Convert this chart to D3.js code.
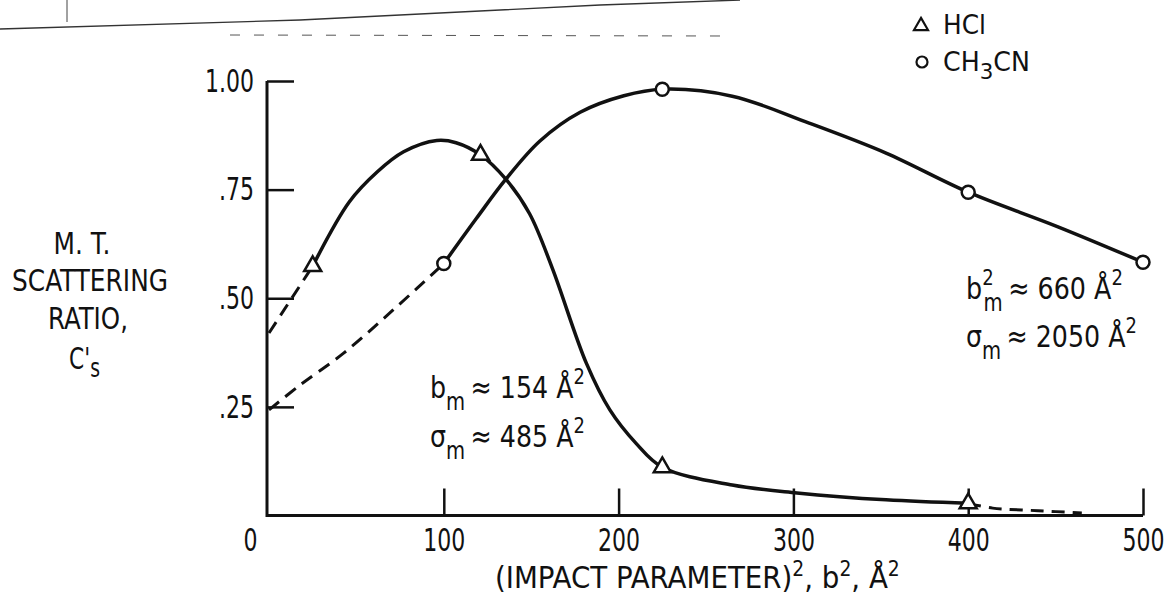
<!DOCTYPE html>
<html>
<head>
<meta charset="utf-8">
<script src="https://cdn.jsdelivr.net/npm/d3@7"></script>
<style>
  html, body { margin: 0; padding: 0; background: #fff; }
  svg text { font-family: 'Liberation Sans Narrow', 'Arial Narrow', 'DejaVu Sans Condensed', sans-serif; fill: #111; }
</style>
</head>
<body>
<div id="chart"></div>
<script>
// axis ticks
const xTicks = [0, 100, 200, 300, 400, 500];
const yTicks = [0.25, 0.5, 0.75, 1.0];
const yTickLabels = ['.25', '.50', '.75', '1.00'];

// measured points
const hclX = [25, 121, 225, 400];
const hclY = [0.574, 0.83, 0.111, 0.028];
const ch3cnX = [100, 225, 400, 500];
const ch3cnY = [0.58, 0.981, 0.744, 0.583];

// drawn curves
const hclCurveX = [25, 46, 62, 77, 96, 107, 121, 135.5, 149, 162, 181.6, 195, 210, 225, 265, 302, 353, 400];
const hclCurveY = [0.574, 0.722, 0.791, 0.837, 0.863, 0.858, 0.83, 0.774, 0.695, 0.57, 0.35, 0.243, 0.166, 0.111, 0.07, 0.052, 0.036, 0.028];
const hclDashX = [0, 25];
const hclDashY = [0.42, 0.574];
const hclTailX = [400, 414, 440, 465];
const hclTailY = [0.028, 0.017, 0.011, 0.006];

const ch3cnCurveX = [100, 118.7, 135.5, 155, 178, 203, 225, 265, 309, 353, 400, 451, 500];
const ch3cnCurveY = [0.58, 0.684, 0.774, 0.862, 0.928, 0.966, 0.981, 0.965, 0.903, 0.834, 0.744, 0.665, 0.583];
const ch3cnDashX = [0, 17.7, 42.5, 71, 100];
const ch3cnDashY = [0.243, 0.30, 0.373, 0.473, 0.58];

function zip(xs, ys) { return xs.map((v, i) => [v, ys[i]]); }

// squeeze a text horizontally so it reads as the condensed lettering of the figure
function squeeze(node, k, origin) {
  const bb = node.getBBox();
  const ox = origin === 'right' ? bb.x + bb.width : origin === 'center' ? bb.x + bb.width / 2 : bb.x;
  node.setAttribute('transform', `translate(${ox},0) scale(${k},1) translate(${-ox},0)`);
}
function fitWidth(node, target, origin) {
  const w = node.getBBox().width;
  if (w > 0) squeeze(node, target / w, origin);
}

function renderChart() {
  const width = 1174, height = 595;
  const svg = d3.select('#chart').append('svg')
    .attr('width', width)
    .attr('height', height);

  const x = d3.scaleLinear().domain([0, 500]).range([269, 1143]);
  const y = d3.scaleLinear().domain([0, 1]).range([515.5, 81]);
  const ink = '#111';

  // scan edge of the page
  svg.append('path')
    .attr('d', 'M0,29 L300,20 L600,5 L740,0')
    .attr('fill', 'none').attr('stroke', '#333').attr('stroke-width', 1.3);
  svg.append('path')
    .attr('d', 'M230,35 L720,36')
    .attr('fill', 'none').attr('stroke', '#555').attr('stroke-width', 1)
    .attr('stroke-dasharray', '10,14');
  svg.append('path')
    .attr('d', 'M67,0 L67,22')
    .attr('fill', 'none').attr('stroke', '#444').attr('stroke-width', 1);

  // axes
  const xAxis = d3.axisBottom(x).tickValues(xTicks).tickSize(-27).tickSizeOuter(0).tickPadding(13).tickFormat(d3.format('d'));
  const gx = svg.append('g').attr('transform', `translate(0,${y(0)})`).call(xAxis);
  gx.select('.domain').attr('d', `M${x(0) - 2},0H${x(500)}`);
  gx.selectAll('.tick').filter(d => d === 0).select('line').remove();
  gx.selectAll('.tick').filter(d => d === 0).select('text').attr('x', -19);

  const yAxis = d3.axisLeft(y).tickValues(yTicks).tickSize(-27).tickSizeOuter(0).tickPadding(13)
    .tickFormat((d, i) => yTickLabels[i]);
  const gy = svg.append('g').attr('transform', `translate(${x(0) - 2},0)`).call(yAxis);
  gy.select('.domain').attr('d', `M0,${y(1)}V${y(0) + 1.5}`);

  [gx, gy].forEach(g => {
    g.select('.domain').attr('stroke', ink).attr('stroke-width', 3);
    g.selectAll('.tick line').attr('stroke', ink).attr('stroke-width', 2.5);
    g.selectAll('.tick text')
      .attr('fill', ink)
      .attr('font-size', '32px')
      .attr('font-family', null);
  });

  // tick label squeeze, taken from the width of "200"
  const ref = gx.selectAll('.tick text').filter(d => d === 200).node();
  const kTick = 42 / ref.getBBox().width;
  gx.selectAll('.tick text').each(function () { squeeze(this, kTick, 'center'); });
  gy.selectAll('.tick text').each(function () { squeeze(this, kTick, 'right'); });

  // curves
  const line = d3.line().x(d => x(d[0])).y(d => y(d[1])).curve(d3.curveCatmullRom.alpha(0.5));
  const drawCurve = (xs, ys, dashed) => {
    svg.append('path')
      .attr('d', line(zip(xs, ys)))
      .attr('fill', 'none')
      .attr('stroke', ink)
      .attr('stroke-width', dashed ? 3 : 3.5)
      .attr('stroke-linecap', 'butt')
      .attr('stroke-dasharray', dashed ? '13,8' : null);
  };
  drawCurve(hclDashX, hclDashY, true);
  drawCurve(ch3cnDashX, ch3cnDashY, true);
  drawCurve(hclTailX, hclTailY, true);
  drawCurve(hclCurveX, hclCurveY, false);
  drawCurve(ch3cnCurveX, ch3cnCurveY, false);

  // markers
  const tri = d3.symbol(d3.symbolTriangle, 125);
  svg.append('g').selectAll('path')
    .data(zip(hclX, hclY))
    .join('path')
    .attr('d', tri)
    .attr('transform', d => `translate(${x(d[0])},${y(d[1])})`)
    .attr('fill', '#fff')
    .attr('stroke', ink)
    .attr('stroke-width', 2.5);

  svg.append('g').selectAll('circle')
    .data(zip(ch3cnX, ch3cnY))
    .join('circle')
    .attr('cx', d => x(d[0]))
    .attr('cy', d => y(d[1]))
    .attr('r', 6.5)
    .attr('fill', '#fff')
    .attr('stroke', ink)
    .attr('stroke-width', 2.5);

  // legend
  svg.append('path')
    .attr('d', d3.symbol(d3.symbolTriangle, 85)())
    .attr('transform', 'translate(921,26)')
    .attr('fill', '#fff').attr('stroke', ink).attr('stroke-width', 2.2);
  const hl = svg.append('text').attr('x', 943).attr('y', 34).attr('font-size', '26px').text('HCl');
  fitWidth(hl.node(), 43, 'left');
  svg.append('circle').attr('cx', 922).attr('cy', 62).attr('r', 5.5)
    .attr('fill', '#fff').attr('stroke', ink).attr('stroke-width', 2.2);
  const ch = svg.append('text').attr('x', 943).attr('y', 71).attr('font-size', '26px');
  ch.append('tspan').text('CH');
  ch.append('tspan').attr('dy', 8).attr('font-size', '22px').text('3');
  ch.append('tspan').attr('dy', -8).text('CN');
  fitWidth(ch.node(), 87, 'left');

  // y axis title
  const yTitle = ['M. T.', 'SCATTERING', 'RATIO,'];
  const yTitleCx = [82, 90, 88];
  const yTitleW = [57, 156, 80];
  yTitle.forEach((t, i) => {
    const tt = svg.append('text')
      .attr('x', yTitleCx[i]).attr('y', 254 + i * 37.5)
      .attr('text-anchor', 'middle')
      .attr('font-size', '31px')
      .text(t);
    fitWidth(tt.node(), yTitleW[i], 'center');
  });
  const cs = svg.append('text').attr('x', 69).attr('y', 369).attr('font-size', '30px');
  cs.append('tspan').text("C'");
  cs.append('tspan').attr('dy', 8).attr('font-size', '26px').text('s');
  fitWidth(cs.node(), 31, 'left');

  // x axis title
  const xt = svg.append('text').attr('x', 495).attr('y', 588).attr('font-size', '31px');
  xt.append('tspan').text('(IMPACT PARAMETER)');
  xt.append('tspan').attr('dy', -12).attr('font-size', '21px').text('2');
  xt.append('tspan').attr('dy', 12).text(', b');
  xt.append('tspan').attr('dy', -12).attr('font-size', '21px').text('2');
  xt.append('tspan').attr('dy', 12).text(', Å');
  xt.append('tspan').attr('dy', -12).attr('font-size', '21px').text('2');
  fitWidth(xt.node(), 405, 'left');

  // annotations
  const note = (x0, y0, sym, sup, val, w) => {
    const t = svg.append('text').attr('x', x0).attr('y', y0).attr('font-size', '31px');
    t.append('tspan').text(sym);
    if (sup) {
      t.append('tspan').attr('dy', -14).attr('font-size', '22px').text('2');
      t.append('tspan').attr('dx', -11).attr('dy', 26).attr('font-size', '24px').text('m');
    } else {
      t.append('tspan').attr('dy', 12).attr('font-size', '24px').text('m');
    }
    t.append('tspan').attr('dx', 6).attr('dy', -12).text('≈ ' + val + ' Å');
    t.append('tspan').attr('dy', -14).attr('font-size', '22px').text('2');
    fitWidth(t.node(), w, 'left');
  };
  note(430, 398, 'b', false, '154', 155);
  note(430, 447, 'σ', false, '485', 155);
  note(966, 299, 'b', true, '660', 157);
  note(966, 347, 'σ', false, '2050', 171);
}

renderChart();
</script>
</body>
</html>
